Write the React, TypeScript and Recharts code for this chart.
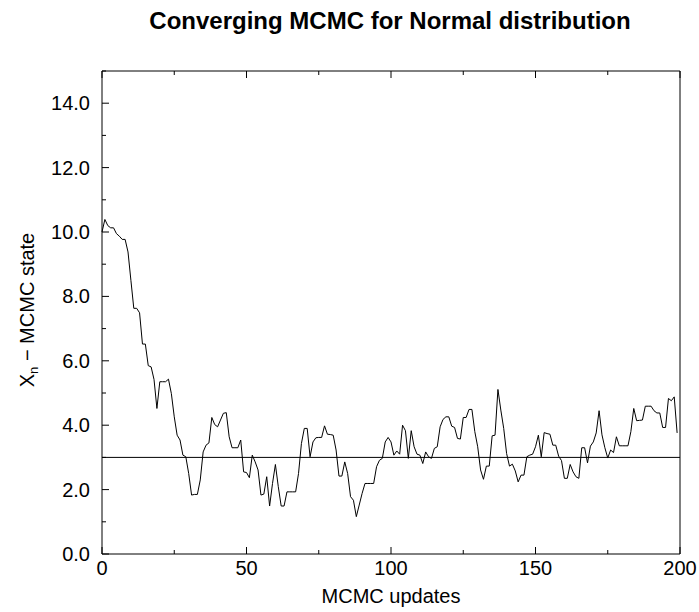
import React from "react";
import { LineChart, Line, XAxis, YAxis, ReferenceLine } from "recharts";

// MCMC state per update
const states = [
  10.0, 10.39, 10.2, 10.13, 10.13, 9.95, 9.87, 9.77, 9.77, 9.38,
  8.5, 7.63, 7.63, 7.49, 6.52, 6.52, 5.85, 5.81, 5.42, 4.52,
  5.35, 5.35, 5.35, 5.43, 4.98, 4.26, 3.69, 3.54, 3.07, 3.02,
  2.5, 1.83, 1.85, 1.85, 2.3, 3.17, 3.38, 3.45, 4.24, 4.02,
  3.95, 4.16, 4.37, 4.39, 3.64, 3.3, 3.3, 3.3, 3.54, 2.55,
  2.53, 2.37, 3.07, 2.86, 2.61, 1.83, 1.86, 2.4, 1.49, 2.19,
  2.78, 2.09, 1.49, 1.49, 1.93, 1.93, 1.93, 1.93, 2.5, 3.43,
  3.9, 3.9, 3.02, 3.48, 3.61, 3.62, 3.62, 3.98, 3.72, 3.71,
  3.69, 3.23, 2.42, 2.42, 2.86, 2.5, 1.78, 1.67, 1.16, 1.52,
  1.88, 2.19, 2.19, 2.19, 2.19, 2.71, 2.91, 2.97, 3.48, 3.62,
  3.48, 3.07, 3.2, 3.1, 4.0, 3.83, 2.97, 3.83, 3.33, 3.1,
  3.07, 2.81, 3.17, 3.02, 2.97, 3.28, 3.33, 3.95, 4.18, 4.26,
  4.26, 3.97, 3.93, 3.59, 3.57, 4.24, 4.24, 4.49, 4.49, 3.8,
  3.33, 2.61, 2.32, 2.73, 2.73, 3.67, 3.69, 5.11, 4.47, 3.9,
  3.12, 2.73, 2.79, 2.58, 2.24, 2.45, 2.45, 3.02, 3.07, 3.1,
  3.33, 3.69, 3.02, 3.77, 3.74, 3.72, 3.38, 3.38, 3.04, 2.9,
  2.35, 2.35, 2.78, 2.55, 2.4, 2.35, 3.3, 3.3, 2.83, 3.35,
  3.48, 3.76, 4.45, 3.7, 3.3, 2.98, 3.23, 3.15, 3.64, 3.36,
  3.36, 3.36, 3.36, 3.8, 4.52, 4.14, 4.15, 4.16, 4.59, 4.59,
  4.59, 4.45, 4.38, 4.38, 3.93, 3.93, 4.83, 4.76, 4.88, 3.76,
];

const targetMean = 3;
const yTicks = [0, 1, 2, 3, 4, 5, 6, 7, 8, 9, 10, 11, 12, 13, 14, 15];
const xTicks = [0, 25, 50, 75, 100, 125, 150, 175, 200];

const data = states.map((v, i) => ({ step: i, x: v }));

const FONT = '"Liberation Sans", Arial, Helvetica, sans-serif';

function LeftTick(props: any) {
  const { x, y, payload } = props;
  const major = payload.value % 2 === 0;
  return (
    <g>
      <line x1={x} y1={y} x2={x + (major ? 7 : 4)} y2={y} stroke="#000" />
      {major && payload.value < 15 && (
        <text x={x - 12} y={y + 7} textAnchor="end" fontSize={20} fontFamily={FONT} fill="#000">
          {payload.value.toFixed(1)}
        </text>
      )}
    </g>
  );
}

function RightTick(props: any) {
  const { x, y, payload } = props;
  const major = payload.value % 2 === 0;
  return <line x1={x} y1={y} x2={x - (major ? 7 : 4)} y2={y} stroke="#000" />;
}

function BottomTick(props: any) {
  const { x, y, payload } = props;
  const major = payload.value % 50 === 0;
  return (
    <g>
      <line x1={x} y1={y} x2={x} y2={y - (major ? 7 : 4)} stroke="#000" />
      {major && (
        <text x={x} y={y + 21} textAnchor="middle" fontSize={20} fontFamily={FONT} fill="#000">
          {payload.value}
        </text>
      )}
    </g>
  );
}

function TopTick(props: any) {
  const { x, y, payload } = props;
  const major = payload.value % 50 === 0;
  return <line x1={x} y1={y} x2={x} y2={y + (major ? 7 : 4)} stroke="#000" />;
}

export default function App() {
  return (
    <div style={{ position: "absolute", left: 0, top: 0, background: "#fff" }}>
      <LineChart width={699} height={612} data={data} margin={{ top: 0, right: 0, bottom: 0, left: 0 }}>
        <XAxis
          xAxisId="top"
          orientation="top"
          dataKey="step"
          type="number"
          domain={[0, 200]}
          ticks={xTicks}
          height={71}
          tickSize={0}
          tickMargin={0}
          tickLine={false}
          tick={<TopTick />}
          axisLine={{ stroke: "#000" }}
          label={() => (
            <text x={390} y={29} textAnchor="middle" fontSize={24} fontWeight="bold" fontFamily={FONT} fill="#000">
              Converging MCMC for Normal distribution
            </text>
          )}
        />
        <XAxis
          xAxisId="bottom"
          dataKey="step"
          type="number"
          domain={[0, 200]}
          ticks={xTicks}
          height={58}
          tickSize={0}
          tickMargin={0}
          tickLine={false}
          tick={<BottomTick />}
          axisLine={{ stroke: "#000" }}
          label={() => (
            <text x={391} y={603} textAnchor="middle" fontSize={20} fontFamily={FONT} fill="#000">
              MCMC updates
            </text>
          )}
        />
        <YAxis
          yAxisId="left"
          type="number"
          domain={[0, 15]}
          ticks={yTicks}
          width={102}
          tickSize={0}
          tickMargin={0}
          tickLine={false}
          tick={<LeftTick />}
          axisLine={{ stroke: "#000" }}
          label={() => (
            <text transform="translate(34,310) rotate(-90)" textAnchor="middle" fontSize={20} fontFamily={FONT} fill="#000">
              <tspan>X</tspan>
              <tspan fontSize={13} dy={4}>n</tspan>
              <tspan dy={-4}> − MCMC state</tspan>
            </text>
          )}
        />
        <YAxis
          yAxisId="right"
          orientation="right"
          type="number"
          domain={[0, 15]}
          ticks={yTicks}
          width={19}
          tickSize={0}
          tickMargin={0}
          tickLine={false}
          tick={<RightTick />}
          axisLine={{ stroke: "#000" }}
        />
        <ReferenceLine xAxisId="bottom" yAxisId="left" y={targetMean} stroke="#000" strokeWidth={1} />
        <Line
          xAxisId="bottom"
          yAxisId="left"
          type="linear"
          dataKey="x"
          stroke="#000"
          strokeWidth={1}
          dot={false}
          isAnimationActive={false}
        />
      </LineChart>
    </div>
  );
}
